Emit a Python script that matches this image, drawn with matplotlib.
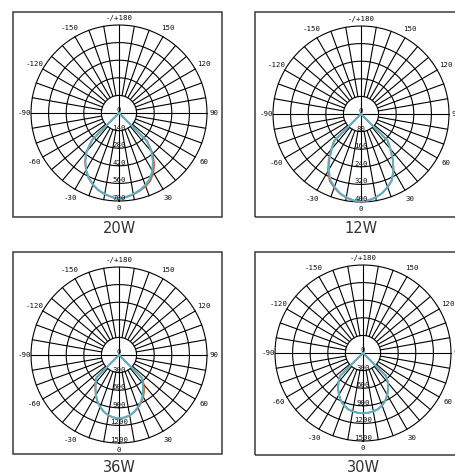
import numpy as np
import matplotlib.pyplot as plt
from matplotlib.patches import Rectangle

W, H = 455, 472

# gamma angles (deg), 0 = straight down
angles = [-50, -45, -40, -35, -30, -25, -20, -15, -10, -5, 0,
          5, 10, 15, 20, 25, 30, 35, 40, 45, 50]

titles = ['20W', '12W', '36W', '30W']
rmax = [700, 400, 1500, 1500]

cyan_20w = [0, 300, 400, 467, 522, 570, 605, 634, 655, 670, 685, 670, 655, 635, 610, 578, 530, 470, 400, 310, 0]
red_20w = [0, 305, 405, 470, 525, 572, 607, 636, 656, 671, 686, 672, 658, 640, 620, 592, 548, 488, 412, 318, 0]
cyan_12w = [0, 170, 205, 250, 293, 330, 352, 372, 385, 394, 398, 394, 385, 372, 354, 332, 295, 252, 207, 172, 0]
red_12w = [0, 174, 210, 256, 300, 336, 356, 374, 386, 395, 399, 394, 385, 372, 354, 332, 295, 252, 207, 172, 0]
cyan_36w = [0, 545, 620, 700, 790, 870, 940, 1000, 1045, 1070, 1080, 1070, 1045, 1000, 945, 880, 800, 715, 630, 550, 0]
red_36w = [0, 545, 620, 700, 790, 870, 940, 1000, 1045, 1070, 1080, 1070, 1048, 1005, 955, 895, 825, 745, 655, 560, 0]
cyan_30w = [0, 550, 650, 740, 820, 895, 950, 990, 1010, 1022, 1028, 1022, 1010, 990, 952, 898, 825, 745, 660, 555, 0]
red_30w = [0, 552, 652, 742, 822, 896, 951, 991, 1011, 1023, 1029, 1023, 1011, 991, 953, 899, 827, 748, 663, 558, 0]

cyan_vals = [cyan_20w, cyan_12w, cyan_36w, cyan_30w]
red_vals = [red_20w, red_12w, red_36w, red_30w]

angle_ticks = [0, 30, 60, 90, 120, 150, 180, 210, 240, 270, 300, 330]
angle_labels = ['0', '30', '60', '90', '120', '150', '-/+180',
                '-150', '-120', '-90', '-60', '-30']

# layout in pixels
centers = [(119, 113), (361, 114), (119, 355), (363, 353)]
boxes = [(13, 12, 222, 217), (255, 12, 464, 217), (13, 252, 222, 454), (255, 252, 464, 455)]
title_y = [228, 228, 468, 467]
R = 88

fig = plt.figure(figsize=(W / 100, H / 100), dpi=100)

for i in range(4):
    x0, y0, x1, y1 = boxes[i]
    rect = Rectangle((x0 / W, 1 - y1 / H), (x1 - x0) / W, (y1 - y0) / H,
                     transform=fig.transFigure, fill=False, ec='#3a3a3a', lw=1.1)
    fig.add_artist(rect)

    cx, cy = centers[i]
    ax = fig.add_axes([(cx - R) / W, 1 - (cy + R) / H, 2 * R / W, 2 * R / H],
                      projection='polar')
    ax.set_theta_zero_location('S')
    ax.set_theta_direction(1)
    ax.set_ylim(0, rmax[i])
    ax.axis('off')

    step = rmax[i] / 5
    th = np.linspace(0, 2 * np.pi, 361)
    for k in range(1, 6):
        ax.plot(th, np.full_like(th, k * step), color='k', lw=0.8, clip_on=False)
    for d in range(0, 360, 10):
        r0 = 0 if d % 90 == 0 else step
        ax.plot([np.radians(d)] * 2, [r0, rmax[i]], color='k', lw=0.8, clip_on=False)

    for k in range(6):
        ax.text(0, k * step, str(int(k * step)), ha='center', va='bottom',
                fontsize=5.3, family='DejaVu Sans Mono', color='#111')

    for d, lab in zip(angle_ticks, angle_labels):
        f = 1.075 if d % 90 == 0 else 1.11
        ax.text(np.radians(d), rmax[i] * f, lab, ha='center', va='center',
                fontsize=5.3, family='DejaVu Sans Mono', color='#111')

    ax.plot(np.radians(angles), red_vals[i], color='#d9532b', lw=1.3, clip_on=False)
    ax.plot(np.radians(angles), cyan_vals[i], color='#56b4c9', lw=1.4, clip_on=False)

    fig.text(cx / W, 1 - title_y[i] / H, titles[i], ha='center', va='center',
             fontsize=10.5, color='#333333')

plt.savefig('out.png', dpi=100)
